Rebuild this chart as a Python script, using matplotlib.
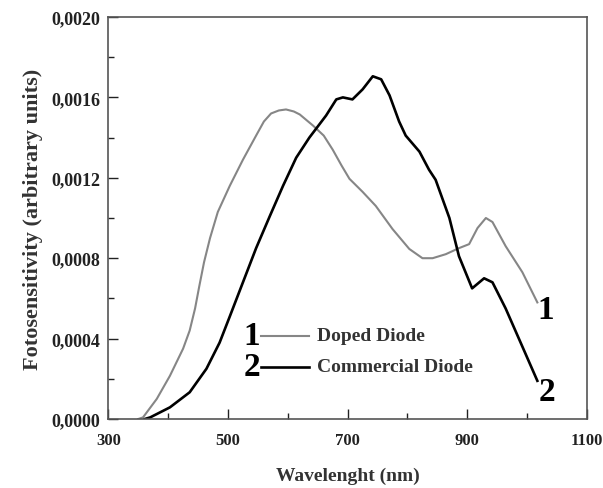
import numpy as np
import matplotlib.pyplot as plt
import matplotlib.ticker as ticker

# Doped Diode (curve 1, gray), values in 1e-4 arbitrary units
doped_nm = [350, 358, 381, 403, 425, 436, 445, 452, 460, 470, 483, 503, 525, 547, 560, 572,
            585, 597, 610, 620, 642, 660, 675, 690, 703, 725, 747, 775, 803, 825, 842, 864,
            886, 903, 917, 931, 942, 964, 992, 1017]
doped_val = [0.0, 0.08, 1.0, 2.15, 3.5, 4.4, 5.5, 6.6, 7.8, 9.0, 10.3, 11.6, 12.9, 14.1, 14.8, 15.2,
             15.35, 15.4, 15.3, 15.15, 14.6, 14.1, 13.4, 12.6, 11.95, 11.3, 10.6, 9.45, 8.46, 8.0, 8.0, 8.2,
             8.5, 8.7, 9.5, 10.0, 9.8, 8.6, 7.3, 5.8]

# Commercial Diode (curve 2, black)
comm_nm = [361, 370, 403, 436, 464, 486, 503, 525, 547, 570, 592, 614, 636, 664,
           681, 692, 708, 725, 742, 756, 770, 786, 797, 820, 836, 847, 870, 886,
           908, 928, 942, 964, 992, 1017]
comm_val = [0.0, 0.08, 0.58, 1.33, 2.5, 3.8, 5.1, 6.8, 8.5, 10.1, 11.6, 13.0, 14.0, 15.1,
            15.9, 16.0, 15.9, 16.4, 17.05, 16.9, 16.1, 14.8, 14.1, 13.3, 12.4, 11.9, 10.0, 8.1,
            6.5, 7.0, 6.8, 5.5, 3.6, 1.9]

x_ticks = [300, 500, 700, 900, 1100]
y_ticks = [0.0, 0.0004, 0.0008, 0.0012, 0.0016, 0.0020]
y_labels = ["0,0000", "0,0004", "0,0008", "0,0012", "0,0016", "0,0020"]

plt.rcParams['font.family'] = ['Liberation Serif', 'DejaVu Serif']
plt.rcParams['font.weight'] = 'bold'

fig = plt.figure(figsize=(6.03, 4.89), dpi=100)
ax = fig.add_axes([0.1796, 0.1411, 0.7939, 0.8221])

gray = '#868686'
ax.plot(doped_nm, np.array(doped_val) * 1e-4, color=gray, lw=1.5)
ax.plot(comm_nm, np.array(comm_val) * 1e-4, color='black', lw=1.9)

ax.set_xlim(300, 1100)
ax.set_ylim(0, 0.002)
ax.set_xticks(x_ticks)
ax.xaxis.set_minor_locator(ticker.MultipleLocator(100))
ax.set_yticks(y_ticks)
ax.set_yticklabels(y_labels)
ax.yaxis.set_minor_locator(ticker.MultipleLocator(0.0002))
ax.tick_params(which='both', direction='in', top=False, right=False,
               colors='#222222', width=1.0)
ax.tick_params(axis='x', which='major', length=7, labelsize=12, pad=9)
ax.tick_params(axis='y', which='major', length=7, labelsize=13, pad=6)
ax.tick_params(which='minor', length=4)
for lab in ax.get_xticklabels() + ax.get_yticklabels():
    lab.set_fontweight('bold')
for s in ax.spines.values():
    s.set_color('#555555')
    s.set_linewidth(1.2)

ax.set_xlabel("Wavelenght (nm)", fontsize=14, fontweight='bold', color='#333333', labelpad=14)
ax.set_ylabel("Fotosensitivity (arbitrary units)", fontsize=16, fontweight='bold',
              color='#333333', labelpad=6)

# hand-made legend, as in the original
ax.text(540, 0.000413, "1", fontsize=24, fontweight='bold', ha='center', va='center')
ax.plot([556, 636], [0.000413, 0.000413], color=gray, lw=1.5)
ax.text(649, 0.000413, "Doped Diode", fontsize=14, fontweight='bold', color='#333333',
        ha='left', va='center')
ax.text(540, 0.000259, "2", fontsize=24, fontweight='bold', ha='center', va='center')
ax.plot([556, 636], [0.000259, 0.000259], color='black', lw=1.9)
ax.text(649, 0.000259, "Commercial Diode", fontsize=14, fontweight='bold', color='#333333',
        ha='left', va='center')

# curve numbers at the ends
ax.text(1031, 0.000547, "1", fontsize=24, fontweight='bold', ha='center', va='center')
ax.text(1033, 0.000139, "2", fontsize=24, fontweight='bold', ha='center', va='center')

plt.savefig("out.png")
